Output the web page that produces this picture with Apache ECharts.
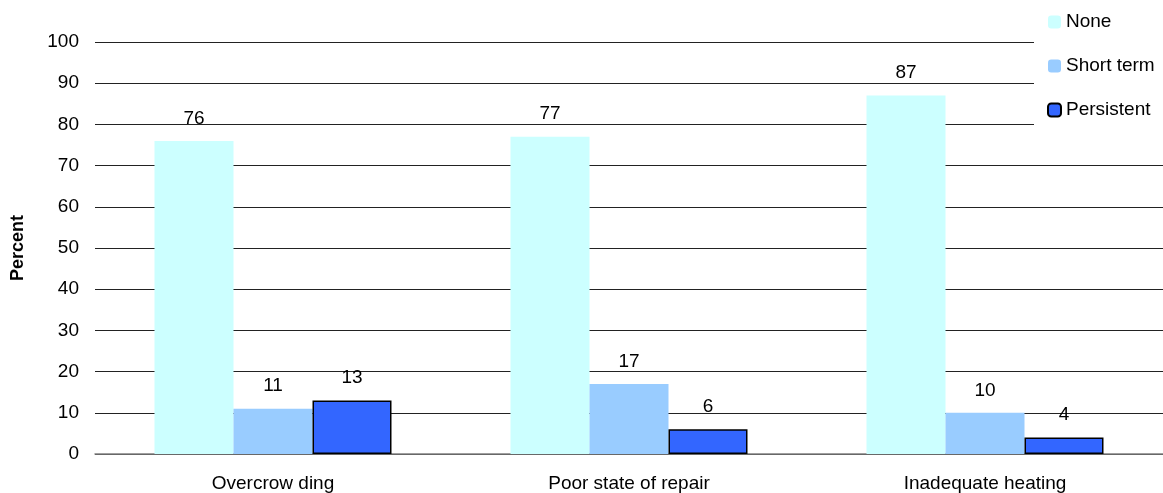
<!DOCTYPE html>
<html>
<head>
<meta charset="utf-8">
<script src="https://cdn.jsdelivr.net/npm/echarts@6/dist/echarts.min.js"></script>
<style>html,body{margin:0;padding:0;background:#fff;}#c{width:1163px;height:493px;}</style>
</head>
<body>
<div id="c"></div>
<script>
const categories = ['Overcrow ding', 'Poor state of repair', 'Inadequate heating'];
const seriesNames = ['None', 'Short term', 'Persistent'];
const noneValues = [76, 77, 87];
const shortTermValues = [11, 17, 10];
const persistentValues = [13, 6, 4];
const yTicks = [0, 10, 20, 30, 40, 50, 60, 70, 80, 90, 100];

const font = 'Liberation Sans, Arial, sans-serif';
const chart = echarts.init(document.getElementById('c'), null, {renderer: 'canvas'});
const labelCfg = {show: true, position: 'top', distance: 13, color: '#000', fontSize: 19, fontFamily: font};
chart.setOption({
  animation: false,
  backgroundColor: '#fff',
  grid: {left: 95, right: -6, top: 42, bottom: 38, containLabel: false},
  legend: {
    orient: 'vertical', left: 1034, top: 0,
    padding: [12, 20, 12, 13],
    backgroundColor: '#fff',
    itemWidth: 13, itemHeight: 13, itemGap: 24,
    textStyle: {fontSize: 19, lineHeight: 20, fontFamily: font, color: '#000'},
    data: seriesNames
  },
  xAxis: {
    type: 'category', data: categories,
    axisLine: {lineStyle: {color: '#808080', width: 1.5}},
    axisTick: {show: false},
    axisLabel: {fontSize: 19, fontFamily: font, color: '#000', margin: 20}
  },
  yAxis: {
    type: 'value', min: yTicks[0], max: yTicks[yTicks.length - 1], interval: 10,
    name: 'Percent', nameLocation: 'middle', nameGap: 68,
    nameTextStyle: {fontSize: 18, fontWeight: 'bold', fontFamily: font, color: '#000'},
    axisLine: {show: false}, axisTick: {show: false},
    axisLabel: {fontSize: 19, fontFamily: font, color: '#000', margin: 16},
    splitLine: {lineStyle: {color: '#222', width: 1}}
  },
  series: [
    {name: seriesNames[0], type: 'bar', data: noneValues, barWidth: 79, barGap: '0%',
     itemStyle: {color: '#CCFFFF'}, label: labelCfg},
    {name: seriesNames[1], type: 'bar', data: shortTermValues, barWidth: 79, barGap: '0%',
     itemStyle: {color: '#99CCFF'}, label: labelCfg},
    {name: seriesNames[2], type: 'bar', data: persistentValues, barWidth: 79, barGap: '0%',
     itemStyle: {color: '#3366FF', borderColor: '#000', borderWidth: 1.5}, label: labelCfg}
  ]
});
</script>
</body>
</html>
